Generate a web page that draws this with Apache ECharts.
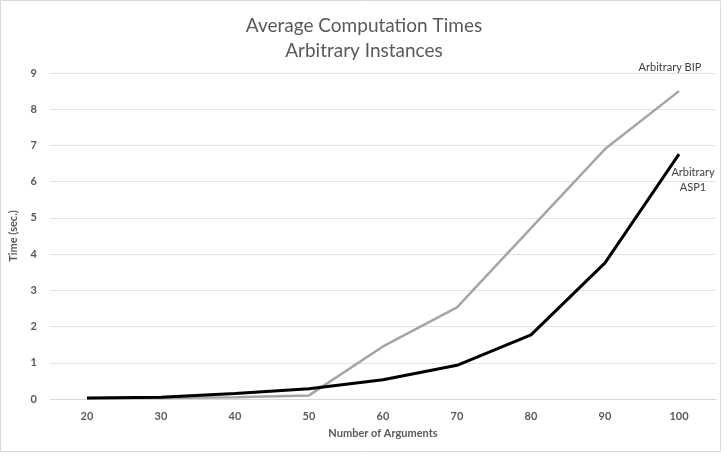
<!DOCTYPE html>
<html><head><meta charset="utf-8">
<script src="https://cdn.jsdelivr.net/npm/echarts@6/dist/echarts.min.js"></script>
<style>html,body{margin:0;padding:0;background:#fff}#c{width:728px;height:456px}</style>
</head><body><div id="c"></div>
<script>
const categories = ['20','30','40','50','60','70','80','90','100'];
const bipValues = [0.02, 0.03, 0.05, 0.1, 1.45, 2.53, 4.72, 6.9, 8.5];
const aspValues = [0.03, 0.05, 0.15, 0.28, 0.53, 0.93, 1.77, 3.76, 6.76];
const bipName = 'Arbitrary BIP';
const aspName = 'Arbitrary\nASP1';
const font = 'Lato, "Open Sans", sans-serif';

const chart = echarts.init(document.getElementById('c'));
chart.setOption({
  animation: false,
  title: {
    text: 'Average Computation Times\nArbitrary Instances',
    left: 'center', top: 8,
    textStyle: { fontFamily: font, fontSize: 19, fontWeight: 'normal', color: '#595959', lineHeight: 25 }
  },
  graphic: [{
    type: 'rect', shape: { x: 0.5, y: 0.5, width: 720, height: 451 },
    style: { fill: 'none', stroke: '#d9d9d9', lineWidth: 1 }, silent: true
  }],
  grid: { left: 50, right: 12, top: 73, bottom: 57 },
  xAxis: {
    type: 'category', data: categories, boundaryGap: true,
    name: 'Number of Arguments', nameLocation: 'middle', nameGap: 29,
    nameTextStyle: { fontFamily: font, fontSize: 11, fontWeight: 'bold', color: '#595959' },
    axisLine: { show: true, lineStyle: { color: '#d9d9d9' } },
    axisTick: { show: false },
    axisLabel: { fontFamily: font, fontSize: 11, fontWeight: 'bold', color: '#595959', margin: 12 }
  },
  yAxis: {
    type: 'value', min: 0, max: 9, interval: 1,
    name: 'Time (sec.)', nameLocation: 'middle', nameGap: 31, nameRotate: 90,
    nameTextStyle: { fontFamily: font, fontSize: 11, fontWeight: 'bold', color: '#595959' },
    axisLine: { show: false }, axisTick: { show: false },
    axisLabel: { fontFamily: font, fontSize: 11, fontWeight: 'bold', color: '#595959', margin: 13 },
    splitLine: { lineStyle: { color: '#e3e3e3', width: 1 } }
  },
  series: [
    {
      name: 'Arbitrary BIP', type: 'line', symbol: 'none',
      lineStyle: { color: '#a5a5a5', width: 2.5 }, itemStyle: { color: '#a5a5a5' },
      endLabel: {
        show: true, formatter: bipName, align: 'center', verticalAlign: 'middle',
        distance: 0, offset: [-9, -24],
        fontFamily: font, fontSize: 11, color: '#404040'
      },
      data: bipValues
    },
    {
      name: 'Arbitrary ASP1', type: 'line', symbol: 'none',
      lineStyle: { color: '#000000', width: 3 }, itemStyle: { color: '#000' },
      endLabel: {
        show: true, formatter: aspName, align: 'center', verticalAlign: 'middle',
        distance: 0, offset: [14, 26], lineHeight: 15,
        fontFamily: font, fontSize: 11, color: '#404040'
      },
      data: aspValues
    }
  ]
});
</script></body></html>
